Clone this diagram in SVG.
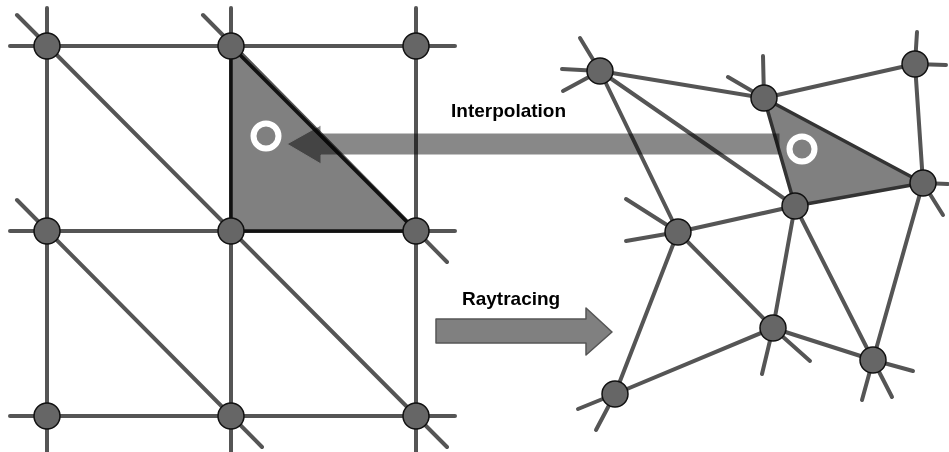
<svg xmlns="http://www.w3.org/2000/svg" width="949" height="452" viewBox="0 0 949 452">
<style>
.ln{stroke:#555;stroke-width:4;stroke-linecap:round;fill:none}
.nd{fill:#666;stroke:#111;stroke-width:1.5}
.tri{fill:#808080;stroke-linejoin:round}
.ring{fill:none;stroke:#fff;stroke-width:6}
.lbl{font-family:"Liberation Sans",Arial,sans-serif;font-weight:bold;font-size:19px;fill:#000}
</style>
<rect width="949" height="452" fill="#fff"/>
<g id="connectors">
  <line class="ln" x1="10" y1="46" x2="455" y2="46"/>
  <line class="ln" x1="10" y1="231" x2="455" y2="231"/>
  <line class="ln" x1="10" y1="416" x2="455" y2="416"/>
  <line class="ln" x1="47" y1="8" x2="47" y2="452"/>
  <line class="ln" x1="231" y1="8" x2="231" y2="452"/>
  <line class="ln" x1="416" y1="8" x2="416" y2="452"/>
  <line class="ln" x1="17" y1="15" x2="447" y2="447"/>
  <line class="ln" x1="203" y1="15" x2="447" y2="262"/>
  <line class="ln" x1="17" y1="200" x2="262" y2="447"/>
  <line class="ln" x1="600" y1="71" x2="764" y2="98"/>
  <line class="ln" x1="600" y1="71" x2="678" y2="232"/>
  <line class="ln" x1="600" y1="71" x2="795" y2="206"/>
  <line class="ln" x1="764" y1="98" x2="915" y2="64"/>
  <line class="ln" x1="915" y1="64" x2="923" y2="183"/>
  <line class="ln" x1="923" y1="183" x2="873" y2="360"/>
  <line class="ln" x1="795" y1="206" x2="678" y2="232"/>
  <line class="ln" x1="795" y1="206" x2="773" y2="328"/>
  <line class="ln" x1="795" y1="206" x2="873" y2="360"/>
  <line class="ln" x1="678" y1="232" x2="615" y2="394"/>
  <line class="ln" x1="678" y1="232" x2="773" y2="328"/>
  <line class="ln" x1="615" y1="394" x2="773" y2="328"/>
  <line class="ln" x1="773" y1="328" x2="873" y2="360"/>
  <line class="ln" x1="600" y1="71" x2="580" y2="38"/>
  <line class="ln" x1="600" y1="71" x2="562" y2="69"/>
  <line class="ln" x1="600" y1="71" x2="563" y2="91"/>
  <line class="ln" x1="764" y1="98" x2="763" y2="56"/>
  <line class="ln" x1="764" y1="98" x2="728" y2="77"/>
  <line class="ln" x1="915" y1="64" x2="917" y2="32"/>
  <line class="ln" x1="915" y1="64" x2="946" y2="65"/>
  <line class="ln" x1="923" y1="183" x2="948" y2="184"/>
  <line class="ln" x1="923" y1="183" x2="943" y2="215"/>
  <line class="ln" x1="678" y1="232" x2="626" y2="199"/>
  <line class="ln" x1="678" y1="232" x2="626" y2="241"/>
  <line class="ln" x1="773" y1="328" x2="762" y2="374"/>
  <line class="ln" x1="773" y1="328" x2="810" y2="361"/>
  <line class="ln" x1="873" y1="360" x2="913" y2="371"/>
  <line class="ln" x1="873" y1="360" x2="862" y2="400"/>
  <line class="ln" x1="873" y1="360" x2="892" y2="397"/>
  <line class="ln" x1="615" y1="394" x2="578" y2="409"/>
  <line class="ln" x1="615" y1="394" x2="596" y2="430"/>
</g>
<g id="triangle-left">
  <polygon class="tri" points="231,46 231,231 416,231" stroke="#111" stroke-width="3.5"/>
</g>
<g id="triangle-right">
  <polygon class="tri" points="764,98 923,183 795,206" stroke="#333" stroke-width="3.5"/>
</g>
<g id="grid-nodes">
  <circle class="nd" cx="47" cy="46" r="13"/>
  <circle class="nd" cx="231" cy="46" r="13"/>
  <circle class="nd" cx="416" cy="46" r="13"/>
  <circle class="nd" cx="47" cy="231" r="13"/>
  <circle class="nd" cx="231" cy="231" r="13"/>
  <circle class="nd" cx="416" cy="231" r="13"/>
  <circle class="nd" cx="47" cy="416" r="13"/>
  <circle class="nd" cx="231" cy="416" r="13"/>
  <circle class="nd" cx="416" cy="416" r="13"/>
</g>
<g id="mesh-nodes">
  <circle class="nd" cx="600" cy="71" r="13"/>
  <circle class="nd" cx="764" cy="98" r="13"/>
  <circle class="nd" cx="915" cy="64" r="13"/>
  <circle class="nd" cx="923" cy="183" r="13"/>
  <circle class="nd" cx="795" cy="206" r="13"/>
  <circle class="nd" cx="678" cy="232" r="13"/>
  <circle class="nd" cx="773" cy="328" r="13"/>
  <circle class="nd" cx="873" cy="360" r="13"/>
  <circle class="nd" cx="615" cy="394" r="13"/>
</g>
<g id="interpolation-arrow">
  <polygon points="780,133 321,133 321,125 287,144 321,164 321,155 780,155" fill="#888" stroke="#fff" stroke-width="1" style="mix-blend-mode:multiply"/>
  <text class="lbl" x="451" y="117">Interpolation</text>
</g>
<g id="sample-points">
  <circle class="ring" cx="266" cy="136" r="12.5"/>
  <circle class="ring" cx="802" cy="149" r="12.5"/>
</g>
<g id="raytracing-arrow">
  <polygon points="436,319 586,319 586,308 612,332 586,355 586,343 436,343" fill="#808080" stroke="#555" stroke-width="1.5" stroke-linejoin="round"/>
  <text class="lbl" x="462" y="305">Raytracing</text>
</g>
</svg>
